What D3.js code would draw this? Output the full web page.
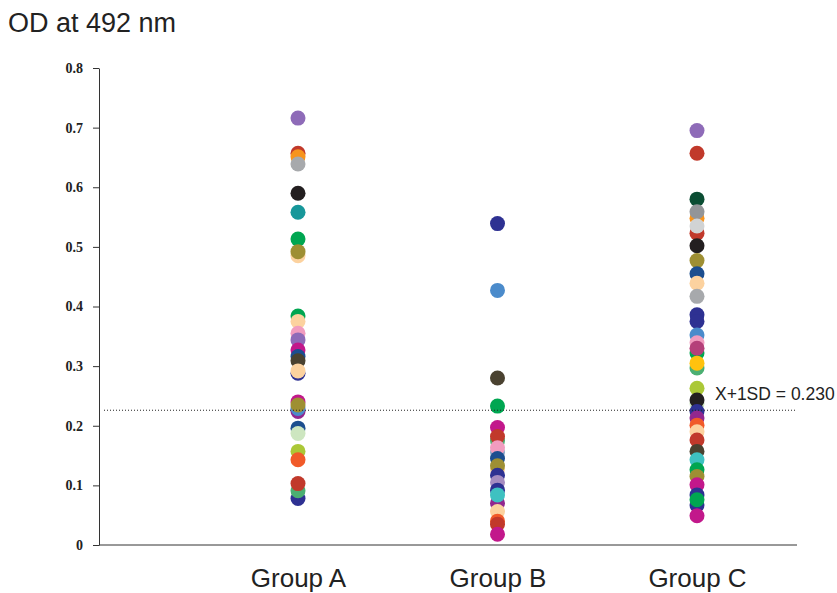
<!DOCTYPE html>
<html>
<head>
<meta charset="utf-8">
<script src="https://cdn.jsdelivr.net/npm/d3@7"></script>
<style>
  html, body { margin: 0; padding: 0; background: #fff; }
  svg { display: block; }
</style>
</head>
<body>
<svg id="chart" width="837" height="593"></svg>
<script>
const categories = ["Group A", "Group B", "Group C"];
const yTicks = [0, 0.1, 0.2, 0.3, 0.4, 0.5, 0.6, 0.7, 0.8];
const threshold = 0.226;
const thresholdLabel = "X+1SD = 0.230";
const yTitle = "OD at 492 nm";

const groupAValues = [0.716, 0.657, 0.651, 0.639, 0.590, 0.558, 0.513, 0.485, 0.492, 0.384, 0.375, 0.355, 0.344, 0.327, 0.316, 0.309, 0.288, 0.292, 0.240, 0.224, 0.229, 0.235, 0.196, 0.187, 0.157, 0.143, 0.078, 0.091, 0.103];
const groupAColors = ["#8E6BB8", "#C1392B", "#F7941D", "#A7A9AC", "#231F20", "#17979A", "#00A651", "#FCD29F", "#9E8F33", "#00A651", "#FCD29F", "#F19CBF", "#8E6BB8", "#C2188B", "#1C4E8F", "#4A4230", "#2E3192", "#FCD29F", "#C2188B", "#92278F", "#4B8BCB", "#9E8F33", "#1C4E8F", "#CDE6C0", "#ABC837", "#F15A29", "#2E3192", "#4BAF72", "#C1392B"];

const groupBValues = [0.539, 0.427, 0.280, 0.233, 0.197, 0.175, 0.182, 0.155, 0.163, 0.145, 0.127, 0.133, 0.117, 0.105, 0.092, 0.070, 0.084, 0.056, 0.040, 0.035, 0.018];
const groupBColors = ["#2E3192", "#4B8BCB", "#4A4230", "#00A651", "#C2188B", "#4BAF72", "#C1392B", "#8FA8C8", "#F19CBF", "#1C4E8F", "#FCD29F", "#9E8F33", "#2E3192", "#A58CC0", "#2E3192", "#92278F", "#3EC1C1", "#FCD29F", "#F15A29", "#C1392B", "#C2188B"];

const groupCValues = [0.695, 0.657, 0.580, 0.548, 0.559, 0.523, 0.535, 0.502, 0.477, 0.455, 0.439, 0.417, 0.386, 0.375, 0.352, 0.322, 0.339, 0.330, 0.297, 0.305, 0.263, 0.237, 0.243, 0.224, 0.213, 0.201, 0.190, 0.176, 0.157, 0.143, 0.126, 0.115, 0.101, 0.067, 0.084, 0.076, 0.049];
const groupCColors = ["#8E6BB8", "#C1392B", "#0B4D33", "#F7941D", "#939598", "#C1392B", "#D1D3D4", "#231F20", "#9E8F33", "#1C4E8F", "#FCD29F", "#A7A9AC", "#2E3192", "#2E3192", "#4B8BCB", "#00A651", "#F19CBF", "#B5407A", "#4BAF72", "#FFC20E", "#ABC837", "#CDE6C0", "#231F20", "#2E3192", "#92278F", "#F15A29", "#FCD29F", "#C1392B", "#4A4230", "#3EC1C1", "#00A651", "#9E8F33", "#C2188B", "#2E3192", "#2E3192", "#00A651", "#C2188B"];

const groups = [
  { name: categories[0], values: groupAValues, colors: groupAColors },
  { name: categories[1], values: groupBValues, colors: groupBColors },
  { name: categories[2], values: groupCValues, colors: groupCColors }
];

const svg = d3.select("#chart");
const plotLeft = 99, plotRight = 797, plotTop = 68, plotBottom = 545;

const y = d3.scaleLinear().domain([0, 0.8]).range([plotBottom, plotTop]);
const x = d3.scalePoint().domain(categories).range([298, 697]);

// Title
svg.append("text")
  .attr("x", 8).attr("y", 32)
  .attr("font-family", "'Liberation Sans', Arial, sans-serif")
  .attr("font-size", 27)
  .attr("fill", "#222")
  .text(yTitle);

// Y axis
const yAxis = d3.axisLeft(y)
  .tickValues(yTicks)
  .tickSize(6)
  .tickSizeOuter(0)
  .tickPadding(10)
  .tickFormat(d => d === 0 ? "0" : d.toFixed(1));

const gy = svg.append("g")
  .attr("transform", `translate(${plotLeft},0)`)
  .call(yAxis);
gy.selectAll("path, line").attr("stroke", "#333");
gy.selectAll("text")
  .attr("font-family", "'Liberation Serif', 'Times New Roman', serif")
  .attr("font-weight", "bold")
  .attr("font-size", 14)
  .attr("fill", "#222");

// X axis line
svg.append("line")
  .attr("x1", plotLeft).attr("x2", plotRight)
  .attr("y1", y(0)).attr("y2", y(0))
  .attr("stroke", "#333");

// X category labels
const xAxis = d3.axisBottom(x).tickSize(0).tickPadding(23.5);
const gx = svg.append("g")
  .attr("transform", `translate(0,${y(0)})`)
  .call(xAxis);
gx.select(".domain").remove();
gx.selectAll("text")
  .attr("font-family", "'Liberation Sans', Arial, sans-serif")
  .attr("font-size", 26)
  .attr("fill", "#222");

// Dots
groups.forEach(g => {
  svg.append("g")
    .selectAll("circle")
    .data(g.values.map((v, i) => ({ v, c: g.colors[i] })))
    .join("circle")
    .attr("cx", x(g.name))
    .attr("cy", d => y(d.v))
    .attr("r", 7.5)
    .attr("fill", d => d.c);
});

// Threshold line
svg.append("line")
  .attr("x1", 104).attr("x2", 795)
  .attr("y1", y(threshold)).attr("y2", y(threshold))
  .attr("stroke", "#222")
  .attr("stroke-width", 1)
  .attr("stroke-dasharray", "1,2");

svg.append("text")
  .attr("x", 715).attr("y", y(threshold) - 10)
  .attr("font-family", "'Liberation Sans', Arial, sans-serif")
  .attr("font-size", 17.5)
  .attr("fill", "#222")
  .text(thresholdLabel);
</script>
</body>
</html>
